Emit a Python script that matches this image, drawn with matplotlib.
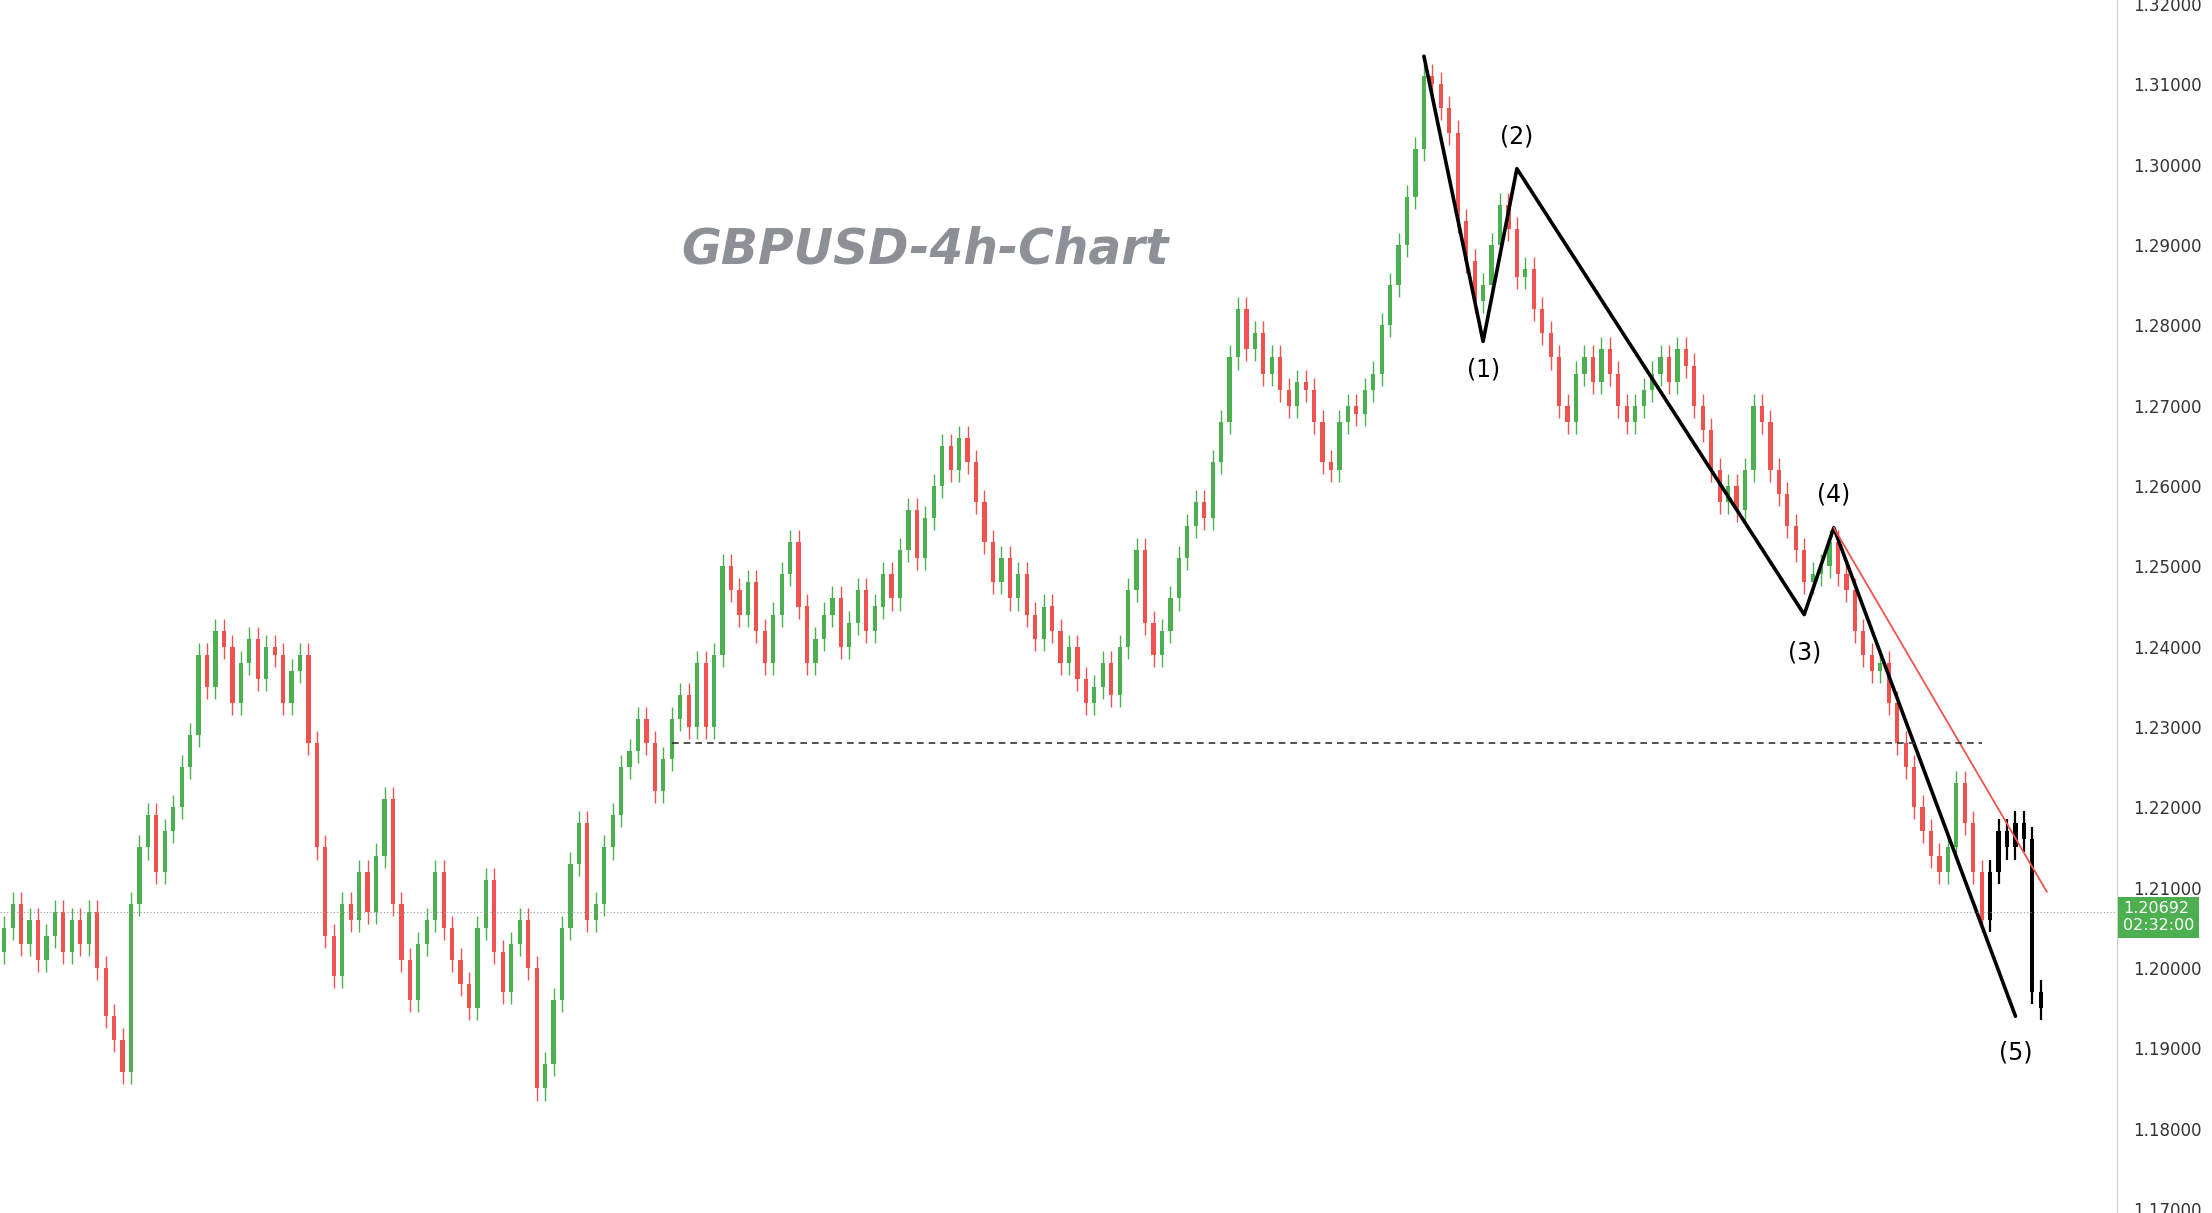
import matplotlib
matplotlib.use("Agg")
import matplotlib.pyplot as plt
from matplotlib.patches import Rectangle

closes = [1.2050,1.2080,1.2030,1.2060,1.2010,1.2040,1.2070,1.2020,1.2060,1.2030,
1.2070,1.2000,1.1940,1.1910,1.1870,1.2080,1.2150,1.2190,1.2120,1.2170,
1.2200,1.2250,1.2290,1.2390,1.2350,1.2420,1.2400,1.2330,1.2380,1.2410,
1.2360,1.2400,1.2390,1.2330,1.2370,1.2390,1.2280,1.2150,1.2040,1.1990,
1.2080,1.2060,1.2120,1.2070,1.2140,1.2210,1.2080,1.2010,1.1960,1.2030,
1.2060,1.2120,1.2050,1.2010,1.1980,1.1950,1.2050,1.2110,1.2020,1.1970,
1.2030,1.2060,1.2000,1.1850,1.1880,1.1960,1.2050,1.2130,1.2180,1.2060,
1.2080,1.2150,1.2190,1.2250,1.2270,1.2310,1.2280,1.2220,1.2260,1.2310,
1.2340,1.2300,1.2380,1.2300,1.2390,1.2500,1.2470,1.2440,1.2480,1.2420,
1.2380,1.2440,1.2490,1.2530,1.2450,1.2380,1.2410,1.2440,1.2460,1.2400,
1.2430,1.2470,1.2420,1.2450,1.2490,1.2460,1.2520,1.2570,1.2510,1.2560,
1.2600,1.2650,1.2620,1.2660,1.2630,1.2580,1.2530,1.2480,1.2510,1.2460,
1.2490,1.2440,1.2410,1.2450,1.2420,1.2380,1.2400,1.2360,1.2330,1.2350,
1.2380,1.2340,1.2400,1.2470,1.2520,1.2430,1.2390,1.2420,1.2460,1.2510,
1.2550,1.2580,1.2560,1.2630,1.2680,1.2760,1.2820,1.2770,1.2790,1.2740,
1.2760,1.2720,1.2700,1.2730,1.2720,1.2680,1.2630,1.2620,1.2680,1.2700,
1.2690,1.2720,1.2740,1.2800,1.2850,1.2900,1.2960,1.3020,1.3110,1.3100,
1.3070,1.3040,1.2930,1.2880,1.2830,1.2850,1.2900,1.2950,1.2920,1.2860,
1.2870,1.2820,1.2790,1.2760,1.2700,1.2680,1.2740,1.2760,1.2730,1.2770,
1.2740,1.2700,1.2680,1.2700,1.2720,1.2740,1.2760,1.2730,1.2770,1.2750,
1.2700,1.2670,1.2620,1.2580,1.2600,1.2570,1.2620,1.2700,1.2680,1.2620,
1.2590,1.2550,1.2520,1.2480,1.2490,1.2500,1.2530,1.2490,1.2470,1.2420,
1.2390,1.2370,1.2380,1.2330,1.2280,1.2250,1.2200,1.2170,1.2140,1.2120,
1.2150,1.2230,1.2180,1.2120,1.2060,1.2120,1.2170,1.2150,1.2180,1.2160,
1.1970,1.1950]
first_open = 1.2020
black_start = 235
wick = 0.0015

wave_idx = [168, 175, 179, 213, 216.5, 238]
wave_px = [1.3135, 1.2780, 1.2995, 1.2440, 1.2548, 1.1940]
wave_labels = ["(1)", "(2)", "(3)", "(4)", "(5)"]
label_px = [1.2745, 1.3035, 1.2393, 1.2590, 1.1895]
red_line_idx = [216.5, 241.7]
red_line_px = [1.2548, 1.2095]
support_idx = [79, 234]
support_px = 1.2280
last_price = 1.20692
yticks = [1.17, 1.18, 1.19, 1.20, 1.21, 1.22, 1.23, 1.24, 1.25, 1.26, 1.27, 1.28, 1.29, 1.30, 1.31, 1.32]

fig = plt.figure(figsize=(22.12, 12.13), dpi=100)
ax = fig.add_axes([0.0, 0.0, 0.957, 1.0])
up_c, dn_c = "#4caf50", "#ef5350"
opens = [first_open] + closes[:-1]
for i, (o, c) in enumerate(zip(opens, closes)):
    col = "black" if i >= black_start else (up_c if c >= o else dn_c)
    hi, lo = max(o, c) + wick, min(o, c) - wick
    ax.vlines(i, lo, hi, color=col, lw=1.6 if i >= black_start else 1.0)
    ax.add_patch(Rectangle((i - 0.25, min(o, c)), 0.5, max(abs(c - o), 0.0003),
                           color=col, lw=0))

ax.plot(wave_idx, wave_px, color="black", lw=2.6, solid_capstyle="round")
for k, lab in enumerate(wave_labels):
    ax.text(wave_idx[k + 1], label_px[k], lab, ha="center", va="center", fontsize=17)
ax.plot(red_line_idx, red_line_px, color="#ef5350", lw=1.3)
ax.plot(support_idx, [support_px] * 2, color="#333333", lw=1.2, ls=(0, (4, 3)))
ax.axhline(last_price, color="#999999", lw=0.8, ls=(0, (1, 2)))
ax.text(109, 1.2895, "GBPUSD-4h-Chart", ha="center", va="center", fontsize=35,
        fontweight="bold", style="italic", color="#8e9098")

ax.set_xlim(-0.5, 250)
ax.set_ylim(1.1695, 1.3205)
ax.yaxis.tick_right()
ax.set_yticks(yticks)
ax.set_yticklabels([f"{v:.5f}" for v in yticks], fontsize=12, color="#333333")
ax.tick_params(axis="y", length=0, pad=12)
ax.set_xticks([])
for s in ["top", "left", "bottom"]:
    ax.spines[s].set_visible(False)
ax.spines["right"].set_color("#d0d0d0")
ax.text(1.003, (last_price - 1.1695) / 0.151 - 0.004, "1.20692\n02:32:00", transform=ax.transAxes,
        ha="left", va="center", fontsize=11.5, color="white", linespacing=1.15,
        bbox=dict(boxstyle="square,pad=0.3", fc="#4caf50", ec="none"), clip_on=False)
fig.savefig("out.png", dpi=100)
